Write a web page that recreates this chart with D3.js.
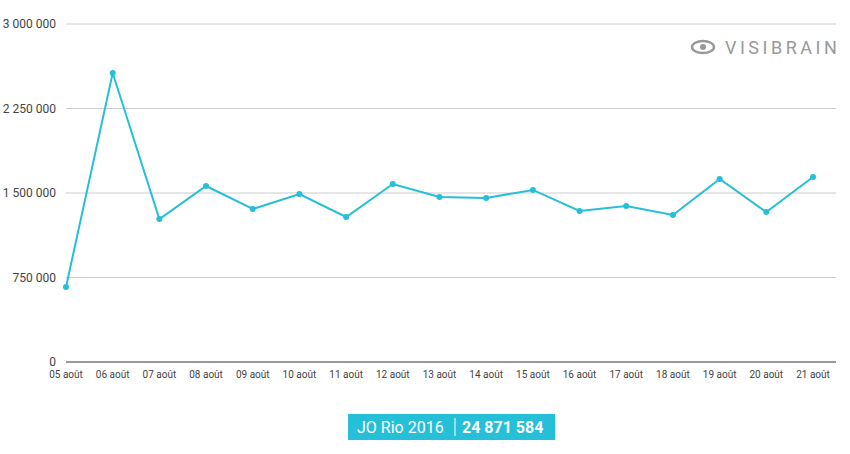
<!DOCTYPE html>
<html><head><meta charset="utf-8">
<script src="https://cdn.jsdelivr.net/npm/d3@7"></script>
<style>body{margin:0;background:#fff;font-family:Roboto,sans-serif}</style>
</head><body><svg id="c" width="850" height="454"></svg>
<script>
var days = ['05 août','06 août','07 août','08 août','09 août','10 août','11 août','12 août','13 août','14 août','15 août','16 août','17 août','18 août','19 août','20 août','21 août'];
var values = [665000,2565000,1269000,1562000,1358000,1491000,1287000,1580000,1464000,1456000,1527000,1340000,1385000,1305000,1624000,1331000,1642000];
var yTicks = [0,750000,1500000,2250000,3000000];
var seriesName = 'JO Rio 2016';
var total = '24 871 584';

var svg = d3.select('#c');
var color = '#26bfd8';
var x = d3.scalePoint().domain(days).range([66, 813]);
var y = d3.scaleLinear().domain([0, 3000000]).range([362, 24]);
var fmt = function(v){ return d3.format(',')(v).replace(/,/g,' '); };

// grid
svg.append('g').selectAll('line').data(yTicks).join('line')
	.attr('x1', 66).attr('x2', 836)
	.attr('y1', d => y(d)).attr('y2', d => y(d))
	.attr('stroke', d => d === 0 ? '#333' : '#ccc').attr('stroke-width', 1);
svg.append('g').selectAll('text').data(yTicks).join('text')
	.attr('x', 56).attr('y', d => y(d) + 4).attr('text-anchor', 'end')
	.attr('font-size', 12).attr('fill', '#444').text(fmt);
svg.append('g').selectAll('text').data(days).join('text')
	.attr('x', d => x(d)).attr('y', 378).attr('text-anchor', 'middle')
	.attr('font-size', 10).attr('fill', '#444').text(d => d);

// line
svg.append('path').datum(values)
	.attr('fill', 'none').attr('stroke', color).attr('stroke-width', 2)
	.attr('d', d3.line().x((d, i) => x(days[i])).y(d => y(d)));
svg.append('g').selectAll('circle').data(values).join('circle')
	.attr('cx', (d, i) => x(days[i])).attr('cy', d => y(d)).attr('r', 3).attr('fill', color);

// logo
var logo = svg.append('g').attr('transform', 'translate(703,47)');
logo.append('ellipse').attr('rx', 11).attr('ry', 6).attr('fill', 'none').attr('stroke', '#999').attr('stroke-width', 2.5);
logo.append('circle').attr('r', 3).attr('fill', '#999');
logo.append('text').attr('x', 22).attr('y', 7).attr('font-size', 18).attr('letter-spacing', 3.5)
	.attr('fill', '#999').text('VISIBRAIN');

// legend
var lg = svg.append('g');
lg.append('rect').attr('x', 348).attr('y', 414).attr('width', 207).attr('height', 26).attr('fill', color);
lg.append('text').attr('x', 357).attr('y', 433).attr('font-size', 16).attr('fill', '#fff').text(seriesName);
lg.append('line').attr('x1', 455).attr('x2', 455).attr('y1', 418).attr('y2', 436).attr('stroke', '#fff');
lg.append('text').attr('x', 462).attr('y', 433).attr('font-size', 16).attr('font-weight', 'bold').attr('fill', '#fff').text(total);
</script></body></html>
